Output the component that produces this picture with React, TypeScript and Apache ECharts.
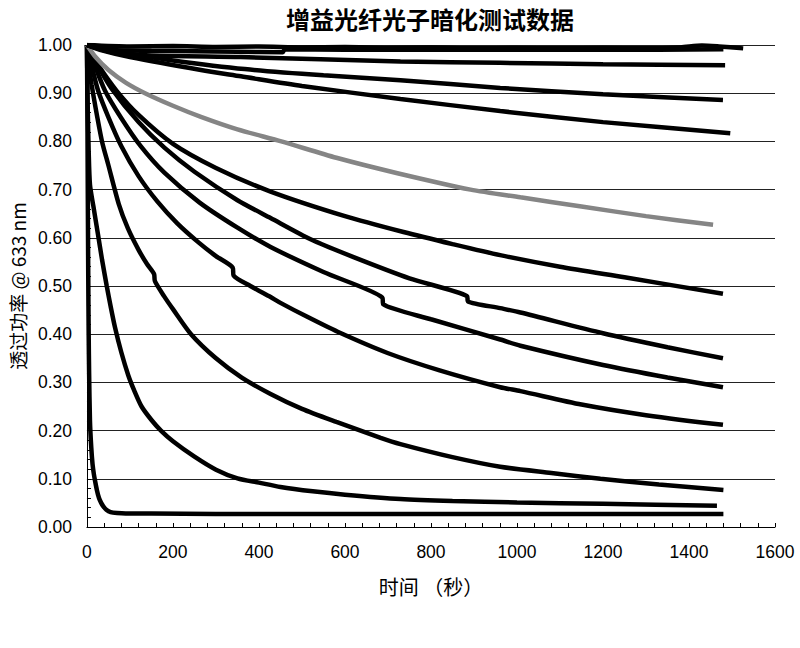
import React, { useEffect, useRef } from "react";
import * as echarts from "echarts";

const titleText = "增益光纤光子暗化测试数据";
const xAxisName = "时间 （秒）";
const yAxisName = "透过功率 @ 633 nm";
const xTicks = [0, 200, 400, 600, 800, 1000, 1200, 1400, 1600];
const yTicks = [0, 0.1, 0.2, 0.3, 0.4, 0.5, 0.6, 0.7, 0.8, 0.9, 1.0];

const curveA: [number, number][] = [
  [0, 1.0], [1, 0.86], [2, 0.68], [3, 0.52], [4, 0.4], [5, 0.32], [7, 0.22], [10, 0.165],
  [13, 0.13], [16, 0.11], [19, 0.095], [23, 0.077], [28, 0.06], [33, 0.05], [38, 0.043],
  [45, 0.036], [55, 0.031], [70, 0.029], [90, 0.028], [150, 0.028], [300, 0.027],
  [600, 0.027], [900, 0.027], [1200, 0.027], [1480, 0.027],
];
const curveB: [number, number][] = [
  [0, 1.0], [1, 0.92], [2, 0.86], [4, 0.78], [7, 0.71], [15, 0.665], [26, 0.605],
  [35, 0.555], [46, 0.5], [55, 0.458], [65, 0.415], [80, 0.362], [96, 0.315], [110, 0.283],
  [127, 0.25], [150, 0.222], [172, 0.2], [200, 0.178], [250, 0.146], [300, 0.119],
  [350, 0.101], [400, 0.092], [450, 0.083], [525, 0.074], [600, 0.067], [729, 0.058],
  [850, 0.054], [1000, 0.051], [1200, 0.048], [1465, 0.044],
];
const curveC: [number, number][] = [
  [0, 1.0], [4, 0.96], [11, 0.917], [20, 0.87], [35, 0.8], [50, 0.75], [74, 0.67],
  [95, 0.62], [120, 0.575], [140, 0.545], [156, 0.525], [158, 0.51], [180, 0.478],
  [200, 0.452], [242, 0.4], [300, 0.35], [360, 0.31], [427, 0.276], [500, 0.245],
  [580, 0.218], [683, 0.185], [729, 0.172], [850, 0.145], [961, 0.125], [1080, 0.112],
  [1194, 0.1], [1330, 0.088], [1480, 0.077],
];
const curveD: [number, number][] = [
  [0, 1.0], [10, 0.96], [26, 0.905], [50, 0.85], [80, 0.79], [120, 0.728], [164, 0.675],
  [210, 0.63], [260, 0.59], [300, 0.562], [339, 0.538], [341, 0.522], [380, 0.5],
  [427, 0.477], [450, 0.465], [510, 0.437], [583, 0.405], [699, 0.361], [820, 0.325],
  [961, 0.29], [1008, 0.282], [1150, 0.254], [1300, 0.232], [1479, 0.212],
];
const curveE: [number, number][] = [
  [0, 1.0], [15, 0.965], [42, 0.905], [80, 0.848], [125, 0.79], [180, 0.735], [262, 0.673],
  [350, 0.621], [427, 0.581], [550, 0.529], [687, 0.476], [689, 0.462], [800, 0.431],
  [961, 0.389], [1008, 0.376], [1200, 0.336], [1350, 0.31], [1479, 0.29],
];
const curveF: [number, number][] = [
  [0, 1.0], [20, 0.965], [57, 0.91], [120, 0.84], [180, 0.787], [250, 0.737], [350, 0.678],
  [427, 0.641], [520, 0.597], [620, 0.56], [750, 0.516], [884, 0.479], [886, 0.468],
  [961, 0.454], [1008, 0.445], [1200, 0.402], [1350, 0.373], [1479, 0.35],
];
const curveG: [number, number][] = [
  [0, 1.0], [25, 0.96], [69, 0.905], [120, 0.855], [200, 0.795], [300, 0.745], [427, 0.696],
  [600, 0.645], [736, 0.612], [850, 0.587], [961, 0.564], [1100, 0.54], [1250, 0.518],
  [1479, 0.484],
];
const curveH: [number, number][] = [
  [0, 1.0], [20, 0.975], [50, 0.948], [90, 0.922], [135, 0.9], [200, 0.874], [265, 0.851],
  [350, 0.825], [452, 0.8], [580, 0.766], [722, 0.734], [892, 0.7], [1008, 0.684],
  [1150, 0.665], [1300, 0.645], [1456, 0.627],
];
const curveI: [number, number][] = [
  [0, 1.0], [30, 0.99], [100, 0.975], [265, 0.948], [358, 0.935], [500, 0.915],
  [729, 0.888], [961, 0.863], [1200, 0.84], [1496, 0.817],
];
const curveJ: [number, number][] = [
  [0, 1.0], [30, 0.993], [100, 0.982], [200, 0.968], [367, 0.95], [550, 0.937],
  [729, 0.927], [961, 0.911], [1200, 0.898], [1479, 0.886],
];
const curveK: [number, number][] = [
  [0, 1.0], [60, 0.985], [150, 0.978], [358, 0.975], [729, 0.966], [961, 0.963],
  [1200, 0.96], [1484, 0.958],
];
const curveL1: [number, number][] = [
  [0, 1.0], [100, 0.997], [200, 0.998], [300, 0.996], [400, 0.997], [500, 0.995],
  [600, 0.996], [700, 0.994], [800, 0.995], [900, 0.993], [1000, 0.994], [1100, 0.993],
  [1200, 0.994], [1300, 0.993], [1380, 0.995], [1430, 0.999], [1470, 0.997], [1526, 0.993],
];
const curveL2: [number, number][] = [
  [0, 1.0], [50, 0.99], [150, 0.988], [250, 0.987], [350, 0.986], [455, 0.985],
  [460, 0.991], [600, 0.99], [800, 0.99], [1000, 0.99], [1200, 0.99], [1480, 0.991],
];

const seriesList: { name: string; data: [number, number][]; gray?: boolean }[] = [
  { name: "A", data: curveA },
  { name: "B", data: curveB },
  { name: "C", data: curveC },
  { name: "D", data: curveD },
  { name: "E", data: curveE },
  { name: "F", data: curveF },
  { name: "G", data: curveG },
  { name: "H", data: curveH, gray: true },
  { name: "I", data: curveI },
  { name: "J", data: curveJ },
  { name: "K", data: curveK },
  { name: "L1", data: curveL1 },
  { name: "L2", data: curveL2 },
];

const latin = '"Liberation Sans", Arial, sans-serif';
const cjk = '"Noto Sans CJK SC", "Liberation Sans", sans-serif';

export default function App() {
  const ref = useRef<HTMLDivElement>(null);
  useEffect(() => {
    document.body.style.margin = "0";
    const chart = echarts.init(ref.current!, null, { renderer: "svg" });
    chart.setOption({
      animation: false,
      backgroundColor: "#fff",
      graphic: [
        {
          type: "text",
          x: 430,
          y: 18,
          style: {
            text: titleText,
            textAlign: "center",
            textVerticalAlign: "middle",
            fontSize: 24,
            fontWeight: "bold",
            fontFamily: cjk,
            fill: "#000",
          },
        },
      ],
      grid: { left: 86, right: 25, top: 45, bottom: 121, containLabel: false },
      xAxis: {
        type: "value",
        min: xTicks[0],
        max: xTicks[xTicks.length - 1],
        interval: 200,
        name: xAxisName,
        nameLocation: "middle",
        nameGap: 49,
        nameTextStyle: { fontSize: 20, fontFamily: cjk, color: "#000" },
        axisLine: { show: true, lineStyle: { color: "#000", width: 1 } },
        axisTick: { show: true, inside: true, length: 4, lineStyle: { color: "#000" } },
        minorTick: { show: true, splitNumber: 5, length: 4, lineStyle: { color: "#000" } },
        axisLabel: {
          fontSize: 17.5,
          fontFamily: latin,
          color: "#000",
          margin: 16,
          formatter: (v: number) => String(v),
        },
        splitLine: { show: false },
      },
      yAxis: {
        type: "value",
        min: yTicks[0],
        max: yTicks[yTicks.length - 1],
        interval: 0.1,
        name: yAxisName,
        nameLocation: "middle",
        nameRotate: 90,
        nameGap: 58,
        nameTextStyle: { fontSize: 19, fontFamily: cjk, color: "#000" },
        axisLine: { show: true, lineStyle: { color: "#000", width: 1 } },
        axisTick: { show: true, inside: true, length: 4, lineStyle: { color: "#000" } },
        minorTick: { show: true, splitNumber: 5, length: 4, lineStyle: { color: "#000" } },
        axisLabel: {
          fontSize: 17.5,
          fontFamily: latin,
          color: "#000",
          margin: 15,
          formatter: (v: number) => v.toFixed(2),
        },
        splitLine: { show: true, lineStyle: { color: "#222", width: 1 } },
      },
      series: seriesList.map((s) => ({
        name: s.name,
        type: "line",
        data: s.data,
        showSymbol: false,
        symbol: "none",
        smooth: 0.25,
        lineStyle: { width: 4.5, color: s.gray ? "#858585" : "#000" },
        silent: true,
      })),
    });
    return () => chart.dispose();
  }, []);
  return (
    <div
      ref={ref}
      style={{ position: "absolute", left: 0, top: 0, width: 800, height: 648 }}
    />
  );
}
